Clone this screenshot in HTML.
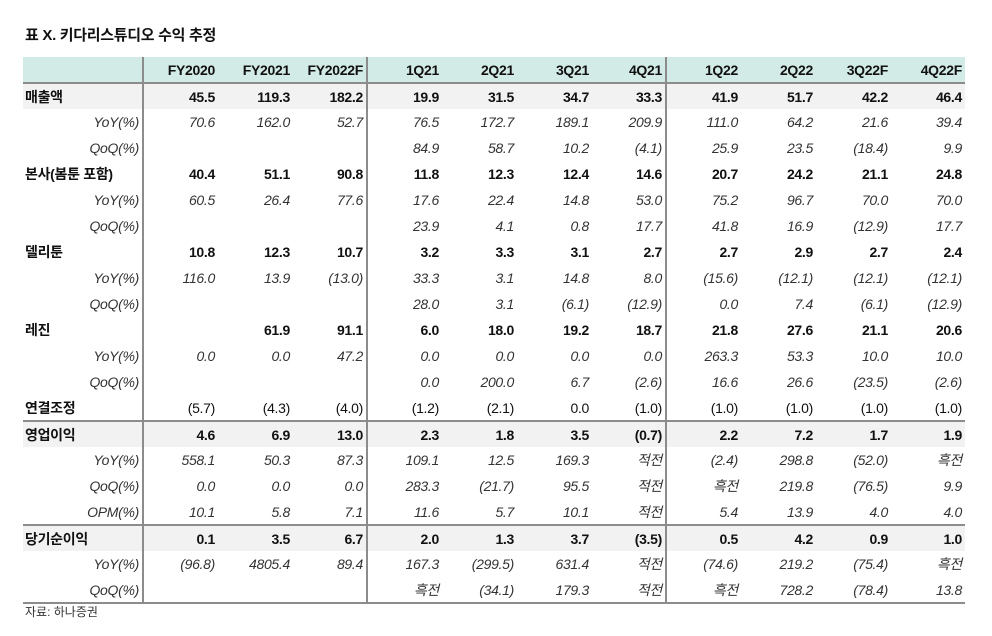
<!DOCTYPE html>
<html><head><meta charset="utf-8"><style>
body{margin:0;width:992px;height:636px;background:#fff;font-family:"Liberation Sans","Noto Sans CJK KR",sans-serif;color:#111;position:relative;overflow:hidden}
.t{position:absolute;left:25px;top:24px;font-size:15px;font-weight:bold;letter-spacing:-0.3px}
.s{position:absolute;left:25px;top:603px;font-size:12px;color:#333}
table{position:absolute;left:23px;top:57px;border-collapse:collapse;table-layout:fixed;font-size:14px}
td{height:26px;padding:0 3px 0 0;text-align:right;white-space:nowrap;box-sizing:border-box;letter-spacing:-0.3px}
tr.h td{background:#d3ebe6;font-weight:bold;border-bottom:2px solid #8c8c8c}
tr.g td{background:#f2f2f2}
tr.b td{font-weight:bold}
tr.i td{font-style:italic;color:#333}
tr.tl td{border-top:2px solid #8c8c8c}
tr.last td{border-bottom:2px solid #8c8c8c}
td.l{text-align:left;padding-left:2px;font-weight:bold;font-style:normal}
tr.i td.l{text-align:right;font-weight:normal;font-style:italic}
td.v1{border-right:2px solid #8c8c8c}
tr.c td{font-weight:normal}
tr.c td.l{font-weight:bold}
</style></head><body>
<div class="t">표 X. 키다리스튜디오 수익 추정</div>
<table>
<colgroup><col style="width:120px"><col style="width:75px"><col style="width:75px"><col style="width:74px"><col style="width:75px"><col style="width:75px"><col style="width:75px"><col style="width:74px"><col style="width:75px"><col style="width:75px"><col style="width:75px"><col style="width:74px"></colgroup>
<tr class="h"><td class="v1"></td><td>FY2020</td><td>FY2021</td><td class="v1">FY2022F</td><td>1Q21</td><td>2Q21</td><td>3Q21</td><td class="v1">4Q21</td><td>1Q22</td><td>2Q22</td><td>3Q22F</td><td>4Q22F</td></tr>
<tr class="g b"><td class="l v1">매출액</td><td>45.5</td><td>119.3</td><td class="v1">182.2</td><td>19.9</td><td>31.5</td><td>34.7</td><td class="v1">33.3</td><td>41.9</td><td>51.7</td><td>42.2</td><td>46.4</td></tr>
<tr class="i"><td class="l v1">YoY(%)</td><td>70.6</td><td>162.0</td><td class="v1">52.7</td><td>76.5</td><td>172.7</td><td>189.1</td><td class="v1">209.9</td><td>111.0</td><td>64.2</td><td>21.6</td><td>39.4</td></tr>
<tr class="i"><td class="l v1">QoQ(%)</td><td></td><td></td><td class="v1"></td><td>84.9</td><td>58.7</td><td>10.2</td><td class="v1">(4.1)</td><td>25.9</td><td>23.5</td><td>(18.4)</td><td>9.9</td></tr>
<tr class="b"><td class="l v1">본사(봄툰 포함)</td><td>40.4</td><td>51.1</td><td class="v1">90.8</td><td>11.8</td><td>12.3</td><td>12.4</td><td class="v1">14.6</td><td>20.7</td><td>24.2</td><td>21.1</td><td>24.8</td></tr>
<tr class="i"><td class="l v1">YoY(%)</td><td>60.5</td><td>26.4</td><td class="v1">77.6</td><td>17.6</td><td>22.4</td><td>14.8</td><td class="v1">53.0</td><td>75.2</td><td>96.7</td><td>70.0</td><td>70.0</td></tr>
<tr class="i"><td class="l v1">QoQ(%)</td><td></td><td></td><td class="v1"></td><td>23.9</td><td>4.1</td><td>0.8</td><td class="v1">17.7</td><td>41.8</td><td>16.9</td><td>(12.9)</td><td>17.7</td></tr>
<tr class="b"><td class="l v1">델리툰</td><td>10.8</td><td>12.3</td><td class="v1">10.7</td><td>3.2</td><td>3.3</td><td>3.1</td><td class="v1">2.7</td><td>2.7</td><td>2.9</td><td>2.7</td><td>2.4</td></tr>
<tr class="i"><td class="l v1">YoY(%)</td><td>116.0</td><td>13.9</td><td class="v1">(13.0)</td><td>33.3</td><td>3.1</td><td>14.8</td><td class="v1">8.0</td><td>(15.6)</td><td>(12.1)</td><td>(12.1)</td><td>(12.1)</td></tr>
<tr class="i"><td class="l v1">QoQ(%)</td><td></td><td></td><td class="v1"></td><td>28.0</td><td>3.1</td><td>(6.1)</td><td class="v1">(12.9)</td><td>0.0</td><td>7.4</td><td>(6.1)</td><td>(12.9)</td></tr>
<tr class="b"><td class="l v1">레진</td><td></td><td>61.9</td><td class="v1">91.1</td><td>6.0</td><td>18.0</td><td>19.2</td><td class="v1">18.7</td><td>21.8</td><td>27.6</td><td>21.1</td><td>20.6</td></tr>
<tr class="i"><td class="l v1">YoY(%)</td><td>0.0</td><td>0.0</td><td class="v1">47.2</td><td>0.0</td><td>0.0</td><td>0.0</td><td class="v1">0.0</td><td>263.3</td><td>53.3</td><td>10.0</td><td>10.0</td></tr>
<tr class="i"><td class="l v1">QoQ(%)</td><td></td><td></td><td class="v1"></td><td>0.0</td><td>200.0</td><td>6.7</td><td class="v1">(2.6)</td><td>16.6</td><td>26.6</td><td>(23.5)</td><td>(2.6)</td></tr>
<tr class="c"><td class="l v1">연결조정</td><td>(5.7)</td><td>(4.3)</td><td class="v1">(4.0)</td><td>(1.2)</td><td>(2.1)</td><td>0.0</td><td class="v1">(1.0)</td><td>(1.0)</td><td>(1.0)</td><td>(1.0)</td><td>(1.0)</td></tr>
<tr class="g b tl"><td class="l v1">영업이익</td><td>4.6</td><td>6.9</td><td class="v1">13.0</td><td>2.3</td><td>1.8</td><td>3.5</td><td class="v1">(0.7)</td><td>2.2</td><td>7.2</td><td>1.7</td><td>1.9</td></tr>
<tr class="i"><td class="l v1">YoY(%)</td><td>558.1</td><td>50.3</td><td class="v1">87.3</td><td>109.1</td><td>12.5</td><td>169.3</td><td class="v1">적전</td><td>(2.4)</td><td>298.8</td><td>(52.0)</td><td>흑전</td></tr>
<tr class="i"><td class="l v1">QoQ(%)</td><td>0.0</td><td>0.0</td><td class="v1">0.0</td><td>283.3</td><td>(21.7)</td><td>95.5</td><td class="v1">적전</td><td>흑전</td><td>219.8</td><td>(76.5)</td><td>9.9</td></tr>
<tr class="i"><td class="l v1">OPM(%)</td><td>10.1</td><td>5.8</td><td class="v1">7.1</td><td>11.6</td><td>5.7</td><td>10.1</td><td class="v1">적전</td><td>5.4</td><td>13.9</td><td>4.0</td><td>4.0</td></tr>
<tr class="g b tl"><td class="l v1">당기순이익</td><td>0.1</td><td>3.5</td><td class="v1">6.7</td><td>2.0</td><td>1.3</td><td>3.7</td><td class="v1">(3.5)</td><td>0.5</td><td>4.2</td><td>0.9</td><td>1.0</td></tr>
<tr class="i"><td class="l v1">YoY(%)</td><td>(96.8)</td><td>4805.4</td><td class="v1">89.4</td><td>167.3</td><td>(299.5)</td><td>631.4</td><td class="v1">적전</td><td>(74.6)</td><td>219.2</td><td>(75.4)</td><td>흑전</td></tr>
<tr class="i last"><td class="l v1">QoQ(%)</td><td></td><td></td><td class="v1"></td><td>흑전</td><td>(34.1)</td><td>179.3</td><td class="v1">적전</td><td>흑전</td><td>728.2</td><td>(78.4)</td><td>13.8</td></tr>
</table>
<div class="s">자료: 하나증권</div>
</body></html>
